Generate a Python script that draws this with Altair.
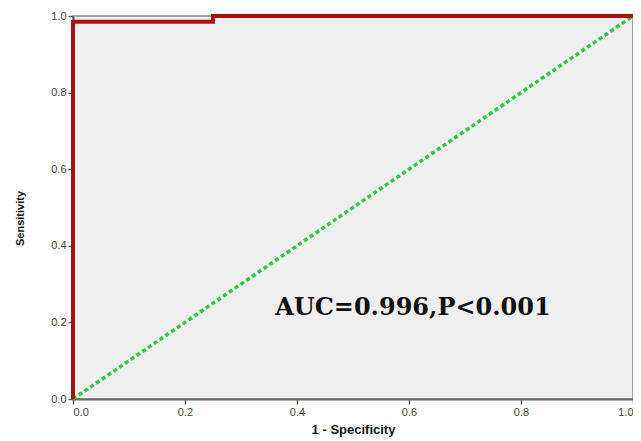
import altair as alt
import pandas as pd

# ROC curve points (1 - Specificity, Sensitivity)
roc_fpr = [0.0, 0.0, 0.25, 0.25, 1.0]
roc_tpr = [0.0, 0.985, 0.985, 1.0, 1.0]
# reference diagonal
diag_x = [0.0, 1.0]
diag_y = [0.0, 1.0]
ticks = [0.0, 0.2, 0.4, 0.6, 0.8, 1.0]
auc_label = "AUC=0.996,P<0.001"

roc = pd.DataFrame({"x": roc_fpr, "y": roc_tpr, "o": list(range(len(roc_fpr)))})
diag = pd.DataFrame({"x": diag_x, "y": diag_y})
txt = pd.DataFrame({"x": [0.607], "y": [0.238], "t": [auc_label]})

xs = alt.Scale(domain=[0, 1], nice=False, zero=False)
ys = alt.Scale(domain=[0, 1], nice=False, zero=False)

xax = alt.Axis(values=ticks, format=".1f", title="1 - Specificity", grid=False,
               labelFont="Liberation Sans", labelFontSize=11, labelColor="#444",
               titleFont="Liberation Sans", titleFontSize=13, titleFontWeight="bold",
               titleColor="#111", titlePadding=6, domainColor="#666", domainWidth=2,
               tickColor="#555", tickSize=5, tickWidth=1.5, labelPadding=2)
yax = alt.Axis(values=ticks, format=".1f", title="Sensitivity", grid=False,
               labelFont="Liberation Sans", labelFontSize=11, labelColor="#444",
               titleFont="Liberation Sans", titleFontSize=11, titleFontWeight="bold",
               titleColor="#111", titleX=-53, titleY=202, titleAngle=-90,
               titleAlign="center", titleBaseline="middle",
               domainColor="#666", domainWidth=2, tickColor="#555", tickSize=5,
               tickWidth=1.5, labelPadding=2)

diag_layer = alt.Chart(diag).mark_line(color="#2ec83c", strokeWidth=3.5,
                                       strokeDash=[4, 3]).encode(
    x=alt.X("x:Q", scale=xs, axis=xax),
    y=alt.Y("y:Q", scale=ys, axis=yax),
)
roc_layer = alt.Chart(roc).mark_line(color="#a81414", strokeWidth=4,
                                     interpolate="linear").encode(
    x=alt.X("x:Q", scale=xs),
    y=alt.Y("y:Q", scale=ys),
    order="o:O",
)
text_layer = alt.Chart(txt).mark_text(font="DejaVu Serif", fontSize=24,
                                      fontWeight="bold", color="#111").encode(
    x=alt.X("x:Q", scale=xs),
    y=alt.Y("y:Q", scale=ys),
    text="t:N",
)

chart = alt.layer(diag_layer, roc_layer, text_layer).properties(
    width=560, height=383,
    padding={"left": 65, "top": 8, "right": 0, "bottom": 40},
    autosize=alt.AutoSizeParams(type="none"),
).configure(
    background="white",
    view=alt.ViewConfig(fill="#efefef", stroke="#888", strokeWidth=1.5),
)

chart.save("out.html", embed_options={"renderer": "svg", "actions": False})
